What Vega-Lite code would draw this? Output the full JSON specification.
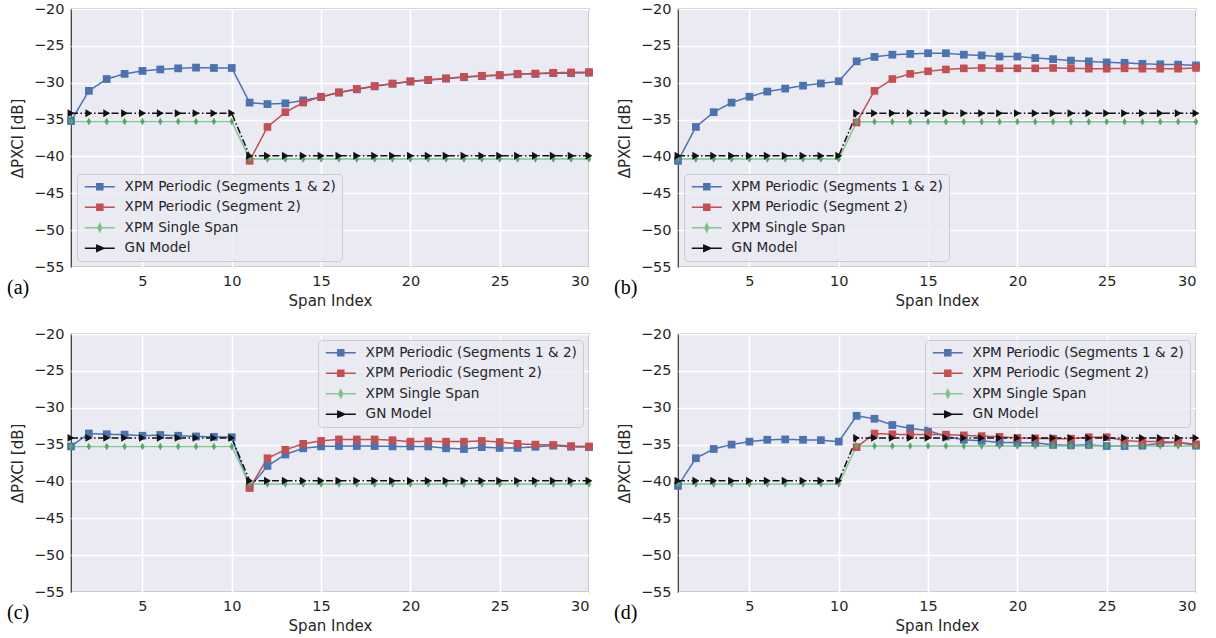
{
  "$schema": "https://vega.github.io/schema/vega-lite/v6.json",
  "background": "white",
  "padding": {"left": 6, "top": 0, "right": 0, "bottom": 0},
  "columns": 2,
  "spacing": {"row": 15, "column": 19},
  "resolve": {
    "scale": {"color": "independent", "fill": "independent", "shape": "independent", "strokeDash": "independent", "strokeWidth": "independent", "size": "independent"},
    "legend": {"color": "independent"}
  },
  "config": {
    "font": "DejaVu Sans",
    "view": {"fill": "#EAEAF2", "stroke": "#333333", "strokeWidth": 1.2},
    "axis": {"grid": true, "gridColor": "#ffffff", "gridWidth": 1.6, "domain": false, "ticks": false,
      "labelFont": "DejaVu Sans", "labelFontSize": 14.5, "labelColor": "#262626", "labelPadding": 7,
      "titleFont": "DejaVu Sans", "titleFontSize": 15, "titleFontWeight": "normal", "titleColor": "#262626"},
    "axisY": {"titlePadding": 8},
    "axisX": {"titlePadding": 6},
    "legend": {"labelFont": "DejaVu Sans", "labelFontSize": 13.6, "labelColor": "#262626", "labelOffset": 28,
      "padding": 6, "rowPadding": 5.5, "fillColor": "rgba(234,234,242,0.8)", "strokeColor": "#cccccc",
      "cornerRadius": 4, "symbolSize": 100, "symbolStrokeWidth": 1.5, "labelLimit": 400},
    "title": {"font": "Liberation Serif", "fontSize": 20, "fontWeight": "normal", "color": "#000000", "orient": "bottom", "anchor": "start", "frame": "group", "dx": -64, "dy": -35}
  },
  "concat": [
    {
      "title": {"text": "(a)"},
      "width": 518, "height": 258,
      "data": {"values": [
        {"x":1,"seg12":-35.2,"seg2":null,"single":-35.25,"gn":-34.15},
        {"x":2,"seg12":-31.1,"seg2":null,"single":-35.25,"gn":-34.15},
        {"x":3,"seg12":-29.5,"seg2":null,"single":-35.25,"gn":-34.15},
        {"x":4,"seg12":-28.8,"seg2":null,"single":-35.25,"gn":-34.15},
        {"x":5,"seg12":-28.4,"seg2":null,"single":-35.25,"gn":-34.15},
        {"x":6,"seg12":-28.2,"seg2":null,"single":-35.25,"gn":-34.15},
        {"x":7,"seg12":-28.05,"seg2":null,"single":-35.25,"gn":-34.15},
        {"x":8,"seg12":-27.95,"seg2":null,"single":-35.25,"gn":-34.15},
        {"x":9,"seg12":-28.0,"seg2":null,"single":-35.25,"gn":-34.15},
        {"x":10,"seg12":-28.0,"seg2":null,"single":-35.25,"gn":-34.15},
        {"x":11,"seg12":-32.7,"seg2":-40.6,"single":-40.35,"gn":-39.9},
        {"x":12,"seg12":-32.9,"seg2":-36.0,"single":-40.35,"gn":-39.9},
        {"x":13,"seg12":-32.8,"seg2":-34.0,"single":-40.35,"gn":-39.9},
        {"x":14,"seg12":-32.4,"seg2":-32.7,"single":-40.35,"gn":-39.9},
        {"x":15,"seg12":-31.95,"seg2":-31.9,"single":-40.35,"gn":-39.9},
        {"x":16,"seg12":-31.35,"seg2":-31.3,"single":-40.35,"gn":-39.9},
        {"x":17,"seg12":-30.9,"seg2":-30.85,"single":-40.35,"gn":-39.9},
        {"x":18,"seg12":-30.5,"seg2":-30.45,"single":-40.35,"gn":-39.9},
        {"x":19,"seg12":-30.15,"seg2":-30.1,"single":-40.35,"gn":-39.9},
        {"x":20,"seg12":-29.85,"seg2":-29.8,"single":-40.35,"gn":-39.9},
        {"x":21,"seg12":-29.65,"seg2":-29.6,"single":-40.35,"gn":-39.9},
        {"x":22,"seg12":-29.45,"seg2":-29.4,"single":-40.35,"gn":-39.9},
        {"x":23,"seg12":-29.25,"seg2":-29.2,"single":-40.35,"gn":-39.9},
        {"x":24,"seg12":-29.1,"seg2":-29.05,"single":-40.35,"gn":-39.9},
        {"x":25,"seg12":-29.0,"seg2":-28.95,"single":-40.35,"gn":-39.9},
        {"x":26,"seg12":-28.85,"seg2":-28.8,"single":-40.35,"gn":-39.9},
        {"x":27,"seg12":-28.8,"seg2":-28.75,"single":-40.35,"gn":-39.9},
        {"x":28,"seg12":-28.7,"seg2":-28.65,"single":-40.35,"gn":-39.9},
        {"x":29,"seg12":-28.7,"seg2":-28.6,"single":-40.35,"gn":-39.9},
        {"x":30,"seg12":-28.65,"seg2":-28.55,"single":-40.35,"gn":-39.9}
      ]},
      "transform": [{"fold": ["seg12", "seg2", "single", "gn"], "as": ["series", "y"]}],
      "encoding": {
        "x": {"field": "x", "type": "quantitative", "scale": {"domain": [1, 30], "nice": false, "zero": false}, "axis": {"values": [5, 10, 15, 20, 25, 30], "title": "Span Index"}},
        "y": {"field": "y", "type": "quantitative", "scale": {"domain": [-55, -20], "nice": false, "zero": false}, "axis": {"values": [-55, -50, -45, -40, -35, -30, -25, -20], "title": "ΔPXCI [dB]"}}
      },
      "layer": [
        {"mark": {"type": "line"},
         "encoding": {
           "color": {"field": "series", "type": "nominal", "scale": {"domain": ["seg12", "seg2", "single", "gn"], "range": ["#4C72B0", "#C44E52", "#86c596", "#111111"]},
             "legend": {"title": null, "orient": "bottom-left", "offset": 6, "labelExpr": "datum.value === 'seg12' ? 'XPM Periodic (Segments 1 & 2)' : datum.value === 'seg2' ? 'XPM Periodic (Segment 2)' : datum.value === 'single' ? 'XPM Single Span' : 'GN Model'",
               "encode": {"symbols": {"update": {"shape": {"signal": "datum.value === 'single' ? 'M-1,0H5M2,-0.8L2.4,0L2,0.8L1.6,0Z' : datum.value === 'gn' ? 'M-1,0H5M1.4,-0.6L2.8,0L1.4,0.6Z' : 'M-1,0H5M1.4,-0.6H2.6V0.6H1.4Z'"}, "fill": {"signal": "datum.value === 'seg12' ? '#4C72B0' : datum.value === 'seg2' ? '#C44E52' : datum.value === 'single' ? '#55A868' : '#111111'"}, "fillOpacity": {"value": 1}, "strokeDash": {"value": []}, "strokeWidth": {"value": 1.5}, "size": {"value": 100}, "opacity": {"value": 1}}}}}},
           "strokeDash": {"field": "series", "type": "nominal", "scale": {"domain": ["gn", "seg12", "seg2", "single"], "range": [[7, 2.5, 1.5, 2.5], [1, 0], [1, 0], [1, 0]]}, "legend": null},
           "strokeWidth": {"field": "series", "type": "nominal", "scale": {"domain": ["gn", "seg12", "seg2", "single"], "range": [1.5, 1.5, 1.5, 1.2]}, "legend": null}
         }},
        {"mark": {"type": "point", "filled": true, "opacity": 1},
         "encoding": {
           "fill": {"field": "series", "type": "nominal", "scale": {"domain": ["gn", "seg12", "seg2", "single"], "range": ["#111111", "#4C72B0", "#C44E52", "#55A868"]}, "legend": null},
           "shape": {"field": "series", "type": "nominal", "scale": {"domain": ["gn", "seg12", "seg2", "single"], "range": ["triangle-right", "square", "square", "M0,-1L0.6,0L0,1L-0.6,0Z"]}, "legend": null},
           "size": {"field": "series", "type": "nominal", "scale": {"domain": ["gn", "seg12", "seg2", "single"], "range": [62, 56, 56, 72]}, "legend": null}
         }}
      ]
    },
    {
      "title": {"text": "(b)"},
      "width": 518, "height": 258,
      "data": {"values": [
        {"x":1,"seg12":-40.6,"seg2":null,"single":-40.35,"gn":-39.9},
        {"x":2,"seg12":-36.0,"seg2":null,"single":-40.35,"gn":-39.9},
        {"x":3,"seg12":-34.0,"seg2":null,"single":-40.35,"gn":-39.9},
        {"x":4,"seg12":-32.7,"seg2":null,"single":-40.35,"gn":-39.9},
        {"x":5,"seg12":-31.9,"seg2":null,"single":-40.35,"gn":-39.9},
        {"x":6,"seg12":-31.2,"seg2":null,"single":-40.35,"gn":-39.9},
        {"x":7,"seg12":-30.8,"seg2":null,"single":-40.35,"gn":-39.9},
        {"x":8,"seg12":-30.4,"seg2":null,"single":-40.35,"gn":-39.9},
        {"x":9,"seg12":-30.1,"seg2":null,"single":-40.35,"gn":-39.9},
        {"x":10,"seg12":-29.8,"seg2":null,"single":-40.35,"gn":-39.9},
        {"x":11,"seg12":-27.1,"seg2":-35.4,"single":-35.3,"gn":-34.15},
        {"x":12,"seg12":-26.5,"seg2":-31.1,"single":-35.3,"gn":-34.15},
        {"x":13,"seg12":-26.2,"seg2":-29.5,"single":-35.3,"gn":-34.15},
        {"x":14,"seg12":-26.1,"seg2":-28.8,"single":-35.3,"gn":-34.15},
        {"x":15,"seg12":-26.0,"seg2":-28.45,"single":-35.3,"gn":-34.15},
        {"x":16,"seg12":-26.0,"seg2":-28.2,"single":-35.3,"gn":-34.15},
        {"x":17,"seg12":-26.2,"seg2":-28.05,"single":-35.3,"gn":-34.15},
        {"x":18,"seg12":-26.3,"seg2":-28.0,"single":-35.3,"gn":-34.15},
        {"x":19,"seg12":-26.45,"seg2":-28.05,"single":-35.3,"gn":-34.15},
        {"x":20,"seg12":-26.45,"seg2":-28.05,"single":-35.3,"gn":-34.15},
        {"x":21,"seg12":-26.65,"seg2":-28.05,"single":-35.3,"gn":-34.15},
        {"x":22,"seg12":-26.8,"seg2":-28.0,"single":-35.3,"gn":-34.15},
        {"x":23,"seg12":-27.0,"seg2":-28.05,"single":-35.3,"gn":-34.15},
        {"x":24,"seg12":-27.1,"seg2":-28.1,"single":-35.3,"gn":-34.15},
        {"x":25,"seg12":-27.25,"seg2":-28.1,"single":-35.3,"gn":-34.15},
        {"x":26,"seg12":-27.3,"seg2":-28.05,"single":-35.3,"gn":-34.15},
        {"x":27,"seg12":-27.45,"seg2":-28.1,"single":-35.3,"gn":-34.15},
        {"x":28,"seg12":-27.5,"seg2":-28.1,"single":-35.3,"gn":-34.15},
        {"x":29,"seg12":-27.55,"seg2":-28.1,"single":-35.3,"gn":-34.15},
        {"x":30,"seg12":-27.65,"seg2":-28.0,"single":-35.3,"gn":-34.15}
      ]},
      "transform": [{"fold": ["seg12", "seg2", "single", "gn"], "as": ["series", "y"]}],
      "encoding": {
        "x": {"field": "x", "type": "quantitative", "scale": {"domain": [1, 30], "nice": false, "zero": false}, "axis": {"values": [5, 10, 15, 20, 25, 30], "title": "Span Index"}},
        "y": {"field": "y", "type": "quantitative", "scale": {"domain": [-55, -20], "nice": false, "zero": false}, "axis": {"values": [-55, -50, -45, -40, -35, -30, -25, -20], "title": "ΔPXCI [dB]"}}
      },
      "layer": [
        {"mark": {"type": "line"},
         "encoding": {
           "color": {"field": "series", "type": "nominal", "scale": {"domain": ["seg12", "seg2", "single", "gn"], "range": ["#4C72B0", "#C44E52", "#86c596", "#111111"]},
             "legend": {"title": null, "orient": "bottom-left", "offset": 6, "labelExpr": "datum.value === 'seg12' ? 'XPM Periodic (Segments 1 & 2)' : datum.value === 'seg2' ? 'XPM Periodic (Segment 2)' : datum.value === 'single' ? 'XPM Single Span' : 'GN Model'",
               "encode": {"symbols": {"update": {"shape": {"signal": "datum.value === 'single' ? 'M-1,0H5M2,-0.8L2.4,0L2,0.8L1.6,0Z' : datum.value === 'gn' ? 'M-1,0H5M1.4,-0.6L2.8,0L1.4,0.6Z' : 'M-1,0H5M1.4,-0.6H2.6V0.6H1.4Z'"}, "fill": {"signal": "datum.value === 'seg12' ? '#4C72B0' : datum.value === 'seg2' ? '#C44E52' : datum.value === 'single' ? '#55A868' : '#111111'"}, "fillOpacity": {"value": 1}, "strokeDash": {"value": []}, "strokeWidth": {"value": 1.5}, "size": {"value": 100}, "opacity": {"value": 1}}}}}},
           "strokeDash": {"field": "series", "type": "nominal", "scale": {"domain": ["gn", "seg12", "seg2", "single"], "range": [[7, 2.5, 1.5, 2.5], [1, 0], [1, 0], [1, 0]]}, "legend": null},
           "strokeWidth": {"field": "series", "type": "nominal", "scale": {"domain": ["gn", "seg12", "seg2", "single"], "range": [1.5, 1.5, 1.5, 1.2]}, "legend": null}
         }},
        {"mark": {"type": "point", "filled": true, "opacity": 1},
         "encoding": {
           "fill": {"field": "series", "type": "nominal", "scale": {"domain": ["gn", "seg12", "seg2", "single"], "range": ["#111111", "#4C72B0", "#C44E52", "#55A868"]}, "legend": null},
           "shape": {"field": "series", "type": "nominal", "scale": {"domain": ["gn", "seg12", "seg2", "single"], "range": ["triangle-right", "square", "square", "M0,-1L0.6,0L0,1L-0.6,0Z"]}, "legend": null},
           "size": {"field": "series", "type": "nominal", "scale": {"domain": ["gn", "seg12", "seg2", "single"], "range": [62, 56, 56, 72]}, "legend": null}
         }}
      ]
    },
    {
      "title": {"text": "(c)"},
      "width": 518, "height": 258,
      "data": {"values": [
        {"x":1,"seg12":-35.25,"seg2":null,"single":-35.25,"gn":-34.1},
        {"x":2,"seg12":-33.5,"seg2":null,"single":-35.25,"gn":-34.1},
        {"x":3,"seg12":-33.6,"seg2":null,"single":-35.25,"gn":-34.1},
        {"x":4,"seg12":-33.65,"seg2":null,"single":-35.25,"gn":-34.1},
        {"x":5,"seg12":-33.8,"seg2":null,"single":-35.25,"gn":-34.1},
        {"x":6,"seg12":-33.7,"seg2":null,"single":-35.25,"gn":-34.1},
        {"x":7,"seg12":-33.8,"seg2":null,"single":-35.25,"gn":-34.1},
        {"x":8,"seg12":-33.9,"seg2":null,"single":-35.25,"gn":-34.1},
        {"x":9,"seg12":-33.95,"seg2":null,"single":-35.25,"gn":-34.1},
        {"x":10,"seg12":-34.0,"seg2":null,"single":-35.25,"gn":-34.1},
        {"x":11,"seg12":-40.8,"seg2":-40.9,"single":-40.35,"gn":-39.9},
        {"x":12,"seg12":-37.9,"seg2":-36.85,"single":-40.35,"gn":-39.9},
        {"x":13,"seg12":-36.35,"seg2":-35.7,"single":-40.35,"gn":-39.9},
        {"x":14,"seg12":-35.5,"seg2":-34.9,"single":-40.35,"gn":-39.9},
        {"x":15,"seg12":-35.25,"seg2":-34.5,"single":-40.35,"gn":-39.9},
        {"x":16,"seg12":-35.2,"seg2":-34.3,"single":-40.35,"gn":-39.9},
        {"x":17,"seg12":-35.2,"seg2":-34.3,"single":-40.35,"gn":-39.9},
        {"x":18,"seg12":-35.2,"seg2":-34.3,"single":-40.35,"gn":-39.9},
        {"x":19,"seg12":-35.25,"seg2":-34.4,"single":-40.35,"gn":-39.9},
        {"x":20,"seg12":-35.25,"seg2":-34.6,"single":-40.35,"gn":-39.9},
        {"x":21,"seg12":-35.25,"seg2":-34.55,"single":-40.35,"gn":-39.9},
        {"x":22,"seg12":-35.5,"seg2":-34.6,"single":-40.35,"gn":-39.9},
        {"x":23,"seg12":-35.6,"seg2":-34.6,"single":-40.35,"gn":-39.9},
        {"x":24,"seg12":-35.35,"seg2":-34.5,"single":-40.35,"gn":-39.9},
        {"x":25,"seg12":-35.45,"seg2":-34.65,"single":-40.35,"gn":-39.9},
        {"x":26,"seg12":-35.45,"seg2":-34.9,"single":-40.35,"gn":-39.9},
        {"x":27,"seg12":-35.3,"seg2":-35.0,"single":-40.35,"gn":-39.9},
        {"x":28,"seg12":-35.15,"seg2":-35.05,"single":-40.35,"gn":-39.9},
        {"x":29,"seg12":-35.3,"seg2":-35.2,"single":-40.35,"gn":-39.9},
        {"x":30,"seg12":-35.35,"seg2":-35.25,"single":-40.35,"gn":-39.9}
      ]},
      "transform": [{"fold": ["seg12", "seg2", "single", "gn"], "as": ["series", "y"]}],
      "encoding": {
        "x": {"field": "x", "type": "quantitative", "scale": {"domain": [1, 30], "nice": false, "zero": false}, "axis": {"values": [5, 10, 15, 20, 25, 30], "title": "Span Index"}},
        "y": {"field": "y", "type": "quantitative", "scale": {"domain": [-55, -20], "nice": false, "zero": false}, "axis": {"values": [-55, -50, -45, -40, -35, -30, -25, -20], "title": "ΔPXCI [dB]"}}
      },
      "layer": [
        {"mark": {"type": "line"},
         "encoding": {
           "color": {"field": "series", "type": "nominal", "scale": {"domain": ["seg12", "seg2", "single", "gn"], "range": ["#4C72B0", "#C44E52", "#86c596", "#111111"]},
             "legend": {"title": null, "orient": "top-right", "offset": 6, "labelExpr": "datum.value === 'seg12' ? 'XPM Periodic (Segments 1 & 2)' : datum.value === 'seg2' ? 'XPM Periodic (Segment 2)' : datum.value === 'single' ? 'XPM Single Span' : 'GN Model'",
               "encode": {"symbols": {"update": {"shape": {"signal": "datum.value === 'single' ? 'M-1,0H5M2,-0.8L2.4,0L2,0.8L1.6,0Z' : datum.value === 'gn' ? 'M-1,0H5M1.4,-0.6L2.8,0L1.4,0.6Z' : 'M-1,0H5M1.4,-0.6H2.6V0.6H1.4Z'"}, "fill": {"signal": "datum.value === 'seg12' ? '#4C72B0' : datum.value === 'seg2' ? '#C44E52' : datum.value === 'single' ? '#55A868' : '#111111'"}, "fillOpacity": {"value": 1}, "strokeDash": {"value": []}, "strokeWidth": {"value": 1.5}, "size": {"value": 100}, "opacity": {"value": 1}}}}}},
           "strokeDash": {"field": "series", "type": "nominal", "scale": {"domain": ["gn", "seg12", "seg2", "single"], "range": [[7, 2.5, 1.5, 2.5], [1, 0], [1, 0], [1, 0]]}, "legend": null},
           "strokeWidth": {"field": "series", "type": "nominal", "scale": {"domain": ["gn", "seg12", "seg2", "single"], "range": [1.5, 1.5, 1.5, 1.2]}, "legend": null}
         }},
        {"mark": {"type": "point", "filled": true, "opacity": 1},
         "encoding": {
           "fill": {"field": "series", "type": "nominal", "scale": {"domain": ["gn", "seg12", "seg2", "single"], "range": ["#111111", "#4C72B0", "#C44E52", "#55A868"]}, "legend": null},
           "shape": {"field": "series", "type": "nominal", "scale": {"domain": ["gn", "seg12", "seg2", "single"], "range": ["triangle-right", "square", "square", "M0,-1L0.6,0L0,1L-0.6,0Z"]}, "legend": null},
           "size": {"field": "series", "type": "nominal", "scale": {"domain": ["gn", "seg12", "seg2", "single"], "range": [62, 56, 56, 72]}, "legend": null}
         }}
      ]
    },
    {
      "title": {"text": "(d)"},
      "width": 518, "height": 258,
      "data": {"values": [
        {"x":1,"seg12":-40.6,"seg2":null,"single":-40.35,"gn":-39.9},
        {"x":2,"seg12":-36.85,"seg2":null,"single":-40.35,"gn":-39.9},
        {"x":3,"seg12":-35.6,"seg2":null,"single":-40.35,"gn":-39.9},
        {"x":4,"seg12":-35.0,"seg2":null,"single":-40.35,"gn":-39.9},
        {"x":5,"seg12":-34.6,"seg2":null,"single":-40.35,"gn":-39.9},
        {"x":6,"seg12":-34.35,"seg2":null,"single":-40.35,"gn":-39.9},
        {"x":7,"seg12":-34.3,"seg2":null,"single":-40.35,"gn":-39.9},
        {"x":8,"seg12":-34.35,"seg2":null,"single":-40.35,"gn":-39.9},
        {"x":9,"seg12":-34.4,"seg2":null,"single":-40.35,"gn":-39.9},
        {"x":10,"seg12":-34.6,"seg2":null,"single":-40.35,"gn":-39.9},
        {"x":11,"seg12":-31.1,"seg2":-35.35,"single":-35.2,"gn":-34.1},
        {"x":12,"seg12":-31.5,"seg2":-33.5,"single":-35.2,"gn":-34.1},
        {"x":13,"seg12":-32.35,"seg2":-33.6,"single":-35.2,"gn":-34.1},
        {"x":14,"seg12":-32.8,"seg2":-33.65,"single":-35.2,"gn":-34.1},
        {"x":15,"seg12":-33.1,"seg2":-33.65,"single":-35.2,"gn":-34.1},
        {"x":16,"seg12":-33.9,"seg2":-33.65,"single":-35.2,"gn":-34.1},
        {"x":17,"seg12":-34.35,"seg2":-33.75,"single":-35.2,"gn":-34.1},
        {"x":18,"seg12":-34.5,"seg2":-33.85,"single":-35.2,"gn":-34.1},
        {"x":19,"seg12":-34.7,"seg2":-33.95,"single":-35.2,"gn":-34.1},
        {"x":20,"seg12":-34.75,"seg2":-34.1,"single":-35.2,"gn":-34.1},
        {"x":21,"seg12":-34.75,"seg2":-34.15,"single":-35.2,"gn":-34.1},
        {"x":22,"seg12":-35.05,"seg2":-34.2,"single":-35.2,"gn":-34.1},
        {"x":23,"seg12":-35.1,"seg2":-34.2,"single":-35.2,"gn":-34.1},
        {"x":24,"seg12":-35.05,"seg2":-34.0,"single":-35.2,"gn":-34.1},
        {"x":25,"seg12":-35.2,"seg2":-34.0,"single":-35.2,"gn":-34.1},
        {"x":26,"seg12":-35.2,"seg2":-34.45,"single":-35.2,"gn":-34.1},
        {"x":27,"seg12":-35.15,"seg2":-34.6,"single":-35.2,"gn":-34.1},
        {"x":28,"seg12":-34.8,"seg2":-34.6,"single":-35.2,"gn":-34.1},
        {"x":29,"seg12":-34.7,"seg2":-34.7,"single":-35.2,"gn":-34.1},
        {"x":30,"seg12":-35.15,"seg2":-34.95,"single":-35.2,"gn":-34.1}
      ]},
      "transform": [{"fold": ["seg12", "seg2", "single", "gn"], "as": ["series", "y"]}],
      "encoding": {
        "x": {"field": "x", "type": "quantitative", "scale": {"domain": [1, 30], "nice": false, "zero": false}, "axis": {"values": [5, 10, 15, 20, 25, 30], "title": "Span Index"}},
        "y": {"field": "y", "type": "quantitative", "scale": {"domain": [-55, -20], "nice": false, "zero": false}, "axis": {"values": [-55, -50, -45, -40, -35, -30, -25, -20], "title": "ΔPXCI [dB]"}}
      },
      "layer": [
        {"mark": {"type": "line"},
         "encoding": {
           "color": {"field": "series", "type": "nominal", "scale": {"domain": ["seg12", "seg2", "single", "gn"], "range": ["#4C72B0", "#C44E52", "#86c596", "#111111"]},
             "legend": {"title": null, "orient": "top-right", "offset": 6, "labelExpr": "datum.value === 'seg12' ? 'XPM Periodic (Segments 1 & 2)' : datum.value === 'seg2' ? 'XPM Periodic (Segment 2)' : datum.value === 'single' ? 'XPM Single Span' : 'GN Model'",
               "encode": {"symbols": {"update": {"shape": {"signal": "datum.value === 'single' ? 'M-1,0H5M2,-0.8L2.4,0L2,0.8L1.6,0Z' : datum.value === 'gn' ? 'M-1,0H5M1.4,-0.6L2.8,0L1.4,0.6Z' : 'M-1,0H5M1.4,-0.6H2.6V0.6H1.4Z'"}, "fill": {"signal": "datum.value === 'seg12' ? '#4C72B0' : datum.value === 'seg2' ? '#C44E52' : datum.value === 'single' ? '#55A868' : '#111111'"}, "fillOpacity": {"value": 1}, "strokeDash": {"value": []}, "strokeWidth": {"value": 1.5}, "size": {"value": 100}, "opacity": {"value": 1}}}}}},
           "strokeDash": {"field": "series", "type": "nominal", "scale": {"domain": ["gn", "seg12", "seg2", "single"], "range": [[7, 2.5, 1.5, 2.5], [1, 0], [1, 0], [1, 0]]}, "legend": null},
           "strokeWidth": {"field": "series", "type": "nominal", "scale": {"domain": ["gn", "seg12", "seg2", "single"], "range": [1.5, 1.5, 1.5, 1.2]}, "legend": null}
         }},
        {"mark": {"type": "point", "filled": true, "opacity": 1},
         "encoding": {
           "fill": {"field": "series", "type": "nominal", "scale": {"domain": ["gn", "seg12", "seg2", "single"], "range": ["#111111", "#4C72B0", "#C44E52", "#55A868"]}, "legend": null},
           "shape": {"field": "series", "type": "nominal", "scale": {"domain": ["gn", "seg12", "seg2", "single"], "range": ["triangle-right", "square", "square", "M0,-1L0.6,0L0,1L-0.6,0Z"]}, "legend": null},
           "size": {"field": "series", "type": "nominal", "scale": {"domain": ["gn", "seg12", "seg2", "single"], "range": [62, 56, 56, 72]}, "legend": null}
         }}
      ]
    }
  ]
}
